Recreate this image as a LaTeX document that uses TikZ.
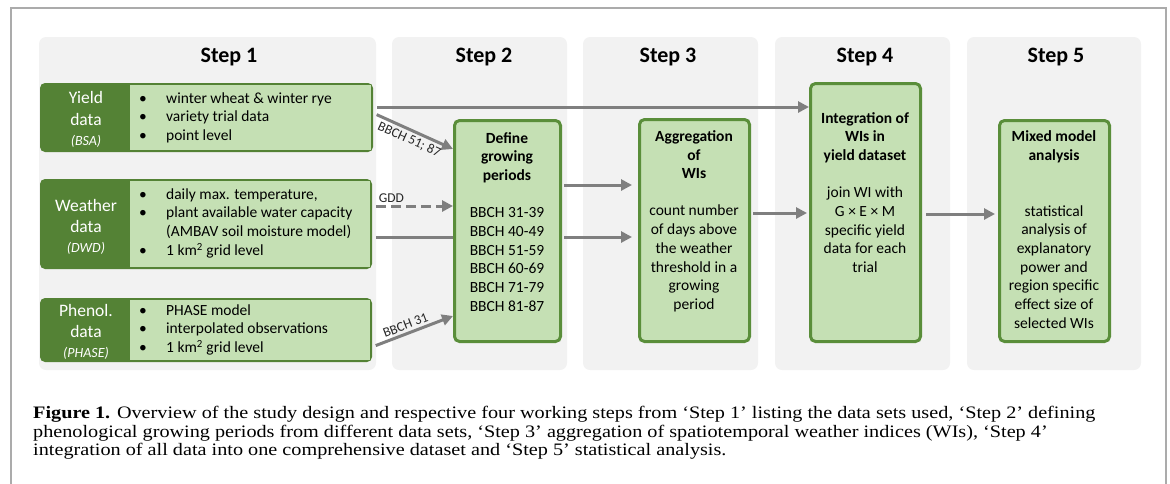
\documentclass[tikz,border=0pt]{standalone}
\usepackage{fontspec}
\setmainfont{Carlito}
\newfontfamily\capfont[FakeStretch=1.155]{Liberation Serif}
\usetikzlibrary{arrows.meta,calc}
\definecolor{dkgreen}{HTML}{548235}
\definecolor{ltgreen}{HTML}{C5E0B4}
\definecolor{boxborder}{HTML}{5A8E3A}
\definecolor{panelgray}{HTML}{F2F2F2}
\definecolor{arrgray}{HTML}{7F7F7F}
\definecolor{framegray}{HTML}{ABABAB}
\begin{document}
\begin{tikzpicture}[x=1pt,y=-1pt,
  panel/.style={fill=panelgray, rounded corners=7pt, draw=none, inner sep=0, minimum height=333pt},
  steptitle/.style={font=\fontsize{22}{26}\selectfont\bfseries, anchor=base, inner sep=0},
  databox/.style={draw=dkgreen, fill=dkgreen, line width=2.5pt, rounded corners=4pt, inner sep=0},
  greenbox/.style={draw=boxborder, fill=ltgreen, line width=3pt, rounded corners=5pt, inner sep=0},
  darktxt/.style={text=white, font=\fontsize{17.5}{21.5}\selectfont, inner sep=0, align=center},
  darksub/.style={text=white, font=\fontsize{14}{17}\selectfont\itshape, inner sep=0},
  listtxt/.style={font=\fontsize{15.5}{18.7}\selectfont, inner sep=0, align=left, anchor=west},
  boxtitle/.style={font=\fontsize{15.5}{18.7}\selectfont\bfseries, inner sep=0, align=center},
  boxbody/.style={font=\fontsize{15.5}{18.7}\selectfont, inner sep=0, align=center},
  arr/.style={draw=arrgray, line width=3pt, -{Triangle[length=11pt,width=11pt]}},
  plain/.style={draw=arrgray, line width=3pt},
  lbl/.style={font=\fontsize{13.5}{16}\selectfont, inner sep=2.5pt, text=black!85}
]
\useasboundingbox (0,0) rectangle (1170,483);
\clip (0,0) rectangle (1170,483);
\draw[framegray, line width=1.2pt] (11,8) rectangle (1166,520);

% panels
\node[panel, minimum width=337pt] (p1) at (207.5,203.5) {};
\node[panel, minimum width=175pt] (p2) at (479.5,203.5) {};
\node[panel, minimum width=175pt] (p3) at (670.5,203.5) {};
\node[panel, minimum width=175pt] (p4) at (862.5,203.5) {};
\node[panel, minimum width=174pt] (p5) at (1054,203.5) {};

\node[steptitle] (s1) at (229,62) {Step 1};
\node[steptitle] (s2) at (484,62) {Step 2};
\node[steptitle] (s3) at (668,62) {Step 3};
\node[steptitle] (s4) at (865,62) {Step 4};
\node[steptitle] (s5) at (1056,62) {Step 5};

% data boxes
\node[databox, minimum width=330.5pt, minimum height=66.5pt] (yield) at (206.5,117.5) {};
\fill[ltgreen] ([shift={(90,1.6)}]yield.north west) rectangle ([shift={(-1.6,-1.6)}]yield.south east);
\node[databox, minimum width=329.5pt, minimum height=87.5pt] (weather) at (206,224) {};
\fill[ltgreen] ([shift={(90,1.6)}]weather.north west) rectangle ([shift={(-1.6,-1.6)}]weather.south east);
\node[databox, minimum width=329.5pt, minimum height=61.5pt] (phenol) at (206,330) {};
\fill[ltgreen] ([shift={(90,1.6)}]phenol.north west) rectangle ([shift={(-1.6,-1.6)}]phenol.south east);

\node[darktxt] (yieldA) at (86,110) {\strut Yield\\\strut data};
\node[darksub] (yieldB) at (86,141) {(BSA)};
\node[darktxt] (weatherA) at (86,217.5) {\strut Weather\\\strut data};
\node[darksub] (weatherB) at (86,248) {(DWD)};
\node[darktxt] (phenolA) at (86,322.5) {\strut Phenol.\\\strut data};
\node[darksub] (phenolB) at (86,353) {(PHASE)};

\newcommand\bul{\makebox[28pt][l]{\hspace{1pt}•}}
\newcommand\nobul{\makebox[28pt][l]{}}
\node[listtxt] (yieldL) at (138,118) {\strut\bul winter wheat \& winter rye\\\strut\bul variety trial data\\\strut\bul point level};
\node[listtxt] (weatherL) at (138,223.5) {\strut\bul daily max. temperature,\\\strut\bul plant available water capacity\\\strut\nobul (AMBAV soil moisture model)\\\strut\bul 1 km\textsuperscript{2} grid level};
\node[listtxt] (phenolL) at (138,330) {\strut\bul PHASE model\\\strut\bul interpolated observations\\\strut\bul 1 km\textsuperscript{2} grid level};

% process boxes
\node[greenbox, minimum width=106pt, minimum height=221pt] (define) at (507.5,231) {};
\node[greenbox, minimum width=110pt, minimum height=222pt] (aggr) at (694.5,230.5) {};
\node[greenbox, minimum width=110pt, minimum height=258pt] (integ) at (865.5,212.5) {};
\node[greenbox, minimum width=110pt, minimum height=221pt] (mixed) at (1054.5,231) {};

\node[boxtitle] (defineT) at (507,158) {\strut Define\\\strut growing\\\strut periods};
\node[boxbody] (defineB) at (507,260.7) {\strut BBCH 31-39\\\strut BBCH 40-49\\\strut BBCH 51-59\\\strut BBCH 60-69\\\strut BBCH 71-79\\\strut BBCH 81-87};
\node[boxtitle] (aggrT) at (694,156.3) {\strut Aggregation\\\strut of\\\strut WIs};
\node[boxbody] (aggrB) at (694,259) {\strut count number\\\strut of days above\\\strut the weather\\\strut threshold in a\\\strut growing\\\strut period};
\node[boxtitle] (integT) at (865,138) {\strut Integration of\\\strut WIs in\\\strut yield dataset};
\node[boxbody] (integB) at (865,231.4) {\strut join WI with\\\strut G × E × M\\\strut specific yield\\\strut data for each\\\strut trial};
\node[boxtitle] (mixedT) at (1054,147) {\strut Mixed model\\\strut analysis};
\node[boxbody] (mixedB) at (1054,268.5) {\strut statistical\\\strut analysis of\\\strut explanatory\\\strut power and\\\strut region specific\\\strut effect size of\\\strut selected WIs};

% connectors
\draw[arr, shorten <=4pt] (yield.east |- 0,107) -- (integ.west |- 0,107);
\draw[arr, shorten <=4pt] (yield.east |- 0,113) -- node[lbl, sloped, below, pos=0.5] (lblA) {BBCH 51; 87} (define.west |- 0,149);
\draw[arr, dash pattern=on 10pt off 5pt, shorten <=4pt] (weather.east |- 0,206) -- node[lbl, above, pos=0.24, inner sep=1.5pt] (lblB) {GDD} (define.west |- 0,206);
\draw[plain, shorten <=4pt] (weather.east |- 0,237) -- (define.west |- 0,237);
\draw[arr, shorten <=2pt, shorten >=6pt] (define.east |- 0,185) -- (aggr.west |- 0,185);
\draw[arr, shorten <=2pt, shorten >=6pt] (define.east |- 0,237) -- (aggr.west |- 0,237);
\draw[arr, shorten <=4pt] (phenol.east |- 0,347) -- node[lbl, sloped, above, pos=0.45] (lblC) {BBCH 31} (define.west |- 0,316);
\draw[arr, shorten <=2pt, shorten >=2pt] (aggr.east |- 0,213) -- (integ.west |- 0,213);
\draw[arr, shorten <=4pt, shorten >=3pt] (integ.east |- 0,214) -- (mixed.west |- 0,214);

% caption
\node[font=\capfont\fontsize{17.5}{18.6}\selectfont, anchor=west, align=left, inner sep=0] (caption) at (33,433.5)
{\strut\textbf{Figure 1.} Overview of the study design and respective four working steps from ‘Step 1’ listing the data sets used, ‘Step 2’ defining\\
\strut phenological growing periods from different data sets, ‘Step 3’ aggregation of spatiotemporal weather indices (WIs), ‘Step 4’\\
\strut integration of all data into one comprehensive dataset and ‘Step 5’ statistical analysis.};
\end{tikzpicture}
\end{document}
